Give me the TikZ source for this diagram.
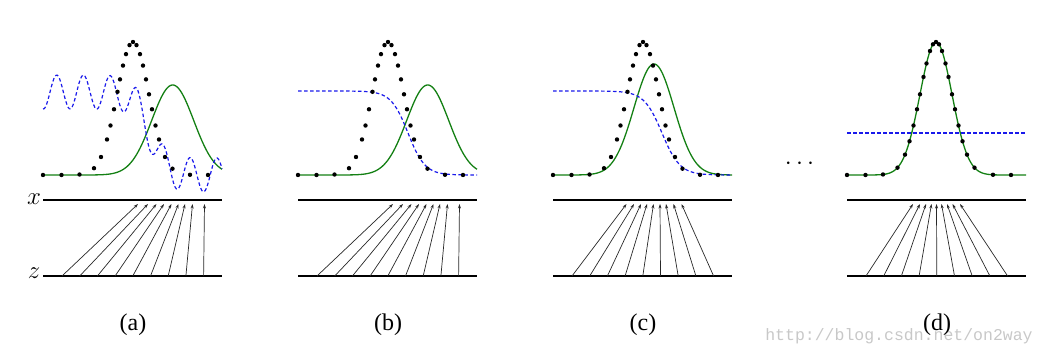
\documentclass[tikz,border=0pt]{standalone}
\usepackage{fontspec}
\setmainfont{Liberation Serif}
\newfontfamily\markfont{Liberation Mono}
\usetikzlibrary{arrows.meta}
\definecolor{GanGreen}{RGB}{20,128,20}
\definecolor{GanBlue}{RGB}{25,25,235}
\definecolor{GanArrow}{RGB}{40,40,40}
\definecolor{MarkGray}{RGB}{200,200,200}

\begin{document}
\begin{tikzpicture}[
    x=1pt, y=-1pt,
    declare function={
      gs(\vx,\vc,\vs)=exp(max(-0.5*((\vx-\vc)/\vs)*((\vx-\vc)/\vs),-9));
      lg(\vx,\vc,\vs)=1/(1+exp(-max(min((\vx-\vc)/\vs,8),-8)));
    },
    axisline/.style={line width=1.4pt},
    gencurve/.style={GanGreen,line width=1.3pt},
    disccurve/.style={GanBlue,line width=1.2pt,dash pattern=on 3.5pt off 2.5pt},
    datadot/.style={fill=black},
    maparrow/.style={GanArrow,line width=0.7pt,-{Stealth[length=4.5pt,width=3pt]}},
    axislabel/.style={font=\fontsize{23}{27}\selectfont},
    caption/.style={font=\fontsize{24}{28}\selectfont},
    plotdom/.style={domain=0:179,samples=150}
  ]
  \useasboundingbox (0,0) rectangle (1047,356);
  \node[MarkGray,font=\markfont\fontsize{16.5}{18}\selectfont] (mark) at (899,336) {http://blog.csdn.net/on2way};
  \node[axislabel] (xlab) at (34,199) {$x$};
  \node[axislabel] (zlab) at (34,273) {$z$};
  % (a)
  \begin{scope}[shift={(43,0)}]
    \draw[axisline] (0,200) -- (179,200);
    \draw[axisline] (0,276) -- (179,276);
    \draw[gencurve] plot[plotdom] (\x,{175-90*gs(\x,129.7,21)});
    \draw[disccurve] plot[plotdom] (\x,{92+83*lg(\x,107,8)-17*cos(13.483*(\x-13.7))});
    \foreach \off in {-90,-71.5,-53.5,-39,-32,-26,-22.5,-19,-15.5,-13,-10,-7,-3.5,0,3.5,7,10,13,16,19,22.5,26,32,39.5,57,75}
      \fill[datadot] ({90+\off},{175-133*gs(90+\off,90,16)}) circle (2.2pt);
    \foreach \tip [count=\i from 0] in {95,105,113.5,121,128.5,135.5,142,149.5,161.5} {
      \coordinate (a-z\i) at ({19+17.7*\i},276);
      \coordinate (a-x\i) at (\tip,204);
      \draw[maparrow] (a-z\i) -- (a-x\i);
    }
    \node[caption] (a-cap) at (90,325) {(a)};
  \end{scope}
  % (b)
  \begin{scope}[shift={(298,0)}]
    \draw[axisline] (0,200) -- (179,200);
    \draw[axisline] (0,276) -- (179,276);
    \draw[gencurve] plot[plotdom] (\x,{175-90*gs(\x,129.7,21)});
    \draw[disccurve] plot[plotdom] (\x,{91+84*lg(\x,110,8.5)});
    \foreach \off in {-90,-71.5,-53.5,-39,-32,-26,-22.5,-19,-15.5,-13,-10,-7,-3.5,0,3.5,7,10,13,16,19,22.5,26,32,39.5,57,75}
      \fill[datadot] ({90+\off},{175-133*gs(90+\off,90,16)}) circle (2.2pt);
    \foreach \tip [count=\i from 0] in {95,105,113.5,121,128.5,135.5,142,149.5,161.5} {
      \coordinate (b-z\i) at ({19+17.7*\i},276);
      \coordinate (b-x\i) at (\tip,204);
      \draw[maparrow] (b-z\i) -- (b-x\i);
    }
    \node[caption] (b-cap) at (90,325) {(b)};
  \end{scope}
  % (c)
  \begin{scope}[shift={(553,0)}]
    \draw[axisline] (0,200) -- (179,200);
    \draw[axisline] (0,276) -- (179,276);
    \draw[gencurve] plot[plotdom] (\x,{175-111*gs(\x,101,20)});
    \draw[disccurve] plot[plotdom] (\x,{91+84*lg(\x,109,9)});
    \foreach \off in {-90,-71.5,-53.5,-39,-32,-26,-22.5,-19,-15.5,-13,-10,-7,-3.5,0,3.5,7,10,13,16,19,22.5,26,32,39.5,57,75}
      \fill[datadot] ({90+\off},{175-133*gs(90+\off,90,16)}) circle (2.2pt);
    \foreach \tip [count=\i from 0] in {73.5,81,88,94,100.5,107,113,120.5,128.5} {
      \coordinate (c-z\i) at ({19+17.7*\i},276);
      \coordinate (c-x\i) at (\tip,204);
      \draw[maparrow] (c-z\i) -- (c-x\i);
    }
    \node[caption] (c-cap) at (90,325) {(c)};
  \end{scope}
  \node[axislabel,anchor=base] (more) at (799.5,169.5) {$\cdots$};
  % (d)
  \begin{scope}[shift={(847,0)}]
    \draw[axisline] (0,200) -- (179,200);
    \draw[axisline] (0,276) -- (179,276);
    \draw[gencurve] plot[plotdom] (\x,{175-133*gs(\x,89,16)});
    \draw[disccurve] (0,133) -- (179,133);
    \foreach \off in {-89,-70.5,-53,-38.5,-31,-26.5,-22.5,-19,-16,-12.5,-9.5,-6,-3,0,3,6,9.5,12.5,16,19,22.5,26.5,31,38.5,57,75}
      \fill[datadot] ({89+\off},{175-133*gs(89+\off,89,16)}) circle (2.2pt);
    \foreach \tip [count=\i from 0] in {66,73,79,84.5,89.5,94.5,100,105.5,113} {
      \coordinate (d-z\i) at ({19+17.7*\i},276);
      \coordinate (d-x\i) at (\tip,204);
      \draw[maparrow] (d-z\i) -- (d-x\i);
    }
    \node[caption] (d-cap) at (90,325) {(d)};
  \end{scope}
\end{tikzpicture}
\end{document}
